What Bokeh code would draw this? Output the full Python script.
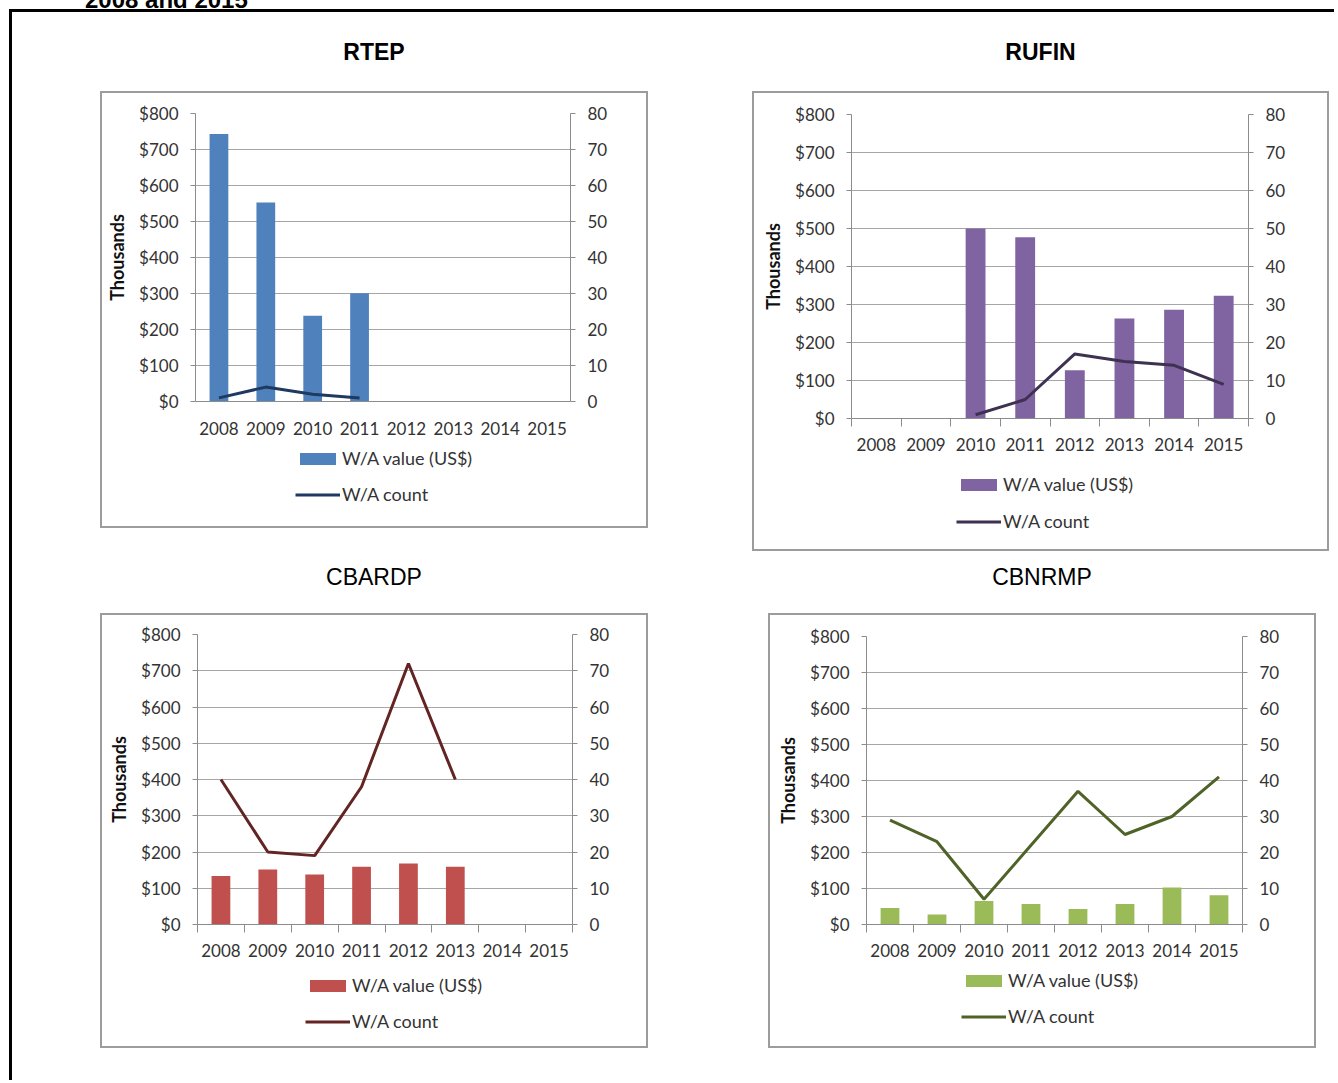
from bokeh.plotting import figure
from bokeh.models import (Range1d, LinearAxis, FixedTicker, NumeralTickFormatter,
                          Legend, LegendItem, Div, Spacer)
from bokeh.layouts import column, row
from bokeh.embed import file_html
from bokeh.resources import INLINE

# ---------------- data ----------------
years = [2008, 2009, 2010, 2011, 2012, 2013, 2014, 2015]
value_ticks = [0, 100, 200, 300, 400, 500, 600, 700, 800]   # thousands US$
count_ticks = [0, 10, 20, 30, 40, 50, 60, 70, 80]

rtep_years = [2008, 2009, 2010, 2011]
rtep_value = [743, 553, 238, 301]
rtep_count = [1, 4, 2, 1]

rufin_years = [2010, 2011, 2012, 2013, 2014, 2015]
rufin_value = [500, 477, 127, 263, 286, 323]
rufin_count = [1, 5, 17, 15, 14, 9]

cbardp_years = [2008, 2009, 2010, 2011, 2012, 2013]
cbardp_value = [134, 152, 138, 159, 168, 159]
cbardp_count = [40, 20, 19, 38, 72, 40]

cbnrmp_years = [2008, 2009, 2010, 2011, 2012, 2013, 2014, 2015]
cbnrmp_value = [46, 28, 65, 57, 43, 57, 103, 81]
cbnrmp_count = [29, 23, 7, 22, 37, 25, 30, 41]

caption = "2008 and 2015"
titles = ["RTEP", "RUFIN", "CBARDP", "CBNRMP"]
legend_labels = ["W/A value (US$)", "W/A count"]

FONT = "Lato"
GRID = "#a6a6a6"
AXIS = "#8c8c8c"
TXT = "#333333"
PANEL_EDGE = "#9c9c9c"


def make_panel(w, h, bl, br, bt, bb, leg_h, leg_loc, leg_spacing,
               yrs, vals, cnts, bar_color, line_color, boundary_ticks):
    p = figure(width=w, height=h, x_range=Range1d(2007.5, 2015.5), y_range=Range1d(0, 800),
               output_backend="svg", toolbar_location=None,
               min_border_left=bl, min_border_right=br, min_border_top=bt,
               min_border_bottom=bb, outline_line_color=None,
               background_fill_color="white", border_fill_color="white")
    p.extra_y_ranges = {"count": Range1d(0, 80)}

    p.vbar(x=yrs, top=vals, width=0.4, fill_color=bar_color, line_color=None)
    p.line(x=yrs, y=cnts, y_range_name="count", line_color=line_color, line_width=3)

    # x axis
    if boundary_ticks:
        minor = [y - 0.5 for y in years] + [years[-1] + 0.5]
    else:
        minor = []
    xa = p.xaxis[0]
    xa.ticker = FixedTicker(ticks=years, minor_ticks=minor)
    xa.major_tick_line_color = None
    xa.major_tick_out = 0
    xa.major_tick_in = 0
    xa.minor_tick_out = 8 if boundary_ticks else 0
    xa.minor_tick_in = 0
    xa.minor_tick_line_color = AXIS
    xa.axis_line_color = AXIS
    xa.major_label_standoff = 11 if boundary_ticks else 20
    xa.major_label_text_font = FONT
    xa.major_label_text_font_size = "17px"
    xa.major_label_text_color = TXT

    # left axis
    ya = p.yaxis[0]
    ya.ticker = FixedTicker(ticks=value_ticks)
    ya.formatter = NumeralTickFormatter(format="$0")
    ya.axis_line_color = AXIS
    ya.major_tick_line_color = AXIS
    ya.major_tick_out = 5
    ya.major_tick_in = 0
    ya.minor_tick_line_color = None
    ya.major_label_standoff = 12
    ya.major_label_text_font = FONT
    ya.major_label_text_font_size = "17px"
    ya.major_label_text_color = TXT
    ya.axis_label = "Thousands"
    ya.axis_label_text_font = FONT
    ya.axis_label_text_font_style = "bold"
    ya.axis_label_text_font_size = "18px"
    ya.axis_label_text_color = "#111111"
    ya.axis_label_standoff = 8

    # right axis
    ra = LinearAxis(y_range_name="count", ticker=FixedTicker(ticks=count_ticks))
    ra.axis_line_color = AXIS
    ra.major_tick_line_color = AXIS
    ra.major_tick_out = 5
    ra.major_tick_in = 0
    ra.minor_tick_line_color = None
    ra.major_label_standoff = 12
    ra.major_label_text_font = FONT
    ra.major_label_text_font_size = "17px"
    ra.major_label_text_color = TXT
    p.add_layout(ra, "right")

    p.xgrid.visible = False
    p.ygrid.grid_line_color = GRID
    p.ygrid.grid_line_width = 1

    # legend strip underneath the chart: same series, kept outside its view
    # (left of and below it), only used so the legend can show their swatches
    lg = figure(width=w, height=leg_h, x_range=Range1d(2030, 2040), y_range=Range1d(2000, 3000),
                output_backend="svg", toolbar_location=None,
                x_axis_location=None, y_axis_location=None,
                min_border_left=0, min_border_right=0, min_border_top=0,
                min_border_bottom=0, outline_line_color=None,
                background_fill_color="white", border_fill_color="white")
    lg.grid.visible = False
    lbar = lg.vbar(x=yrs, top=vals, width=0.4, fill_color=bar_color, line_color=None)
    lline = lg.line(x=yrs, y=cnts, line_color=line_color, line_width=3)
    legend = Legend(items=[LegendItem(label=legend_labels[0], renderers=[lbar]),
                           LegendItem(label=legend_labels[1], renderers=[lline])],
                    location=leg_loc, orientation="vertical",
                    glyph_width=45, glyph_height=15, label_standoff=2,
                    label_height=22, spacing=leg_spacing, padding=0, margin=0,
                    border_line_color=None, background_fill_alpha=0,
                    label_text_font=FONT, label_text_font_size="18px",
                    label_text_color=TXT)
    lg.add_layout(legend, "center")
    inner = column(p, lg, margin=(2, 2, 2, 2), styles={"background-color": "white"})
    # grey frame around the whole chart panel
    return column(inner, styles={"background-color": PANEL_EDGE})


def title_div(text, w, bold):
    return Div(text=text, width=w, height=30, margin=(0, 0, 0, 0),
               styles={"text-align": "center", "font-family": "'Liberation Sans', Arial, sans-serif",
                       "font-size": "23px", "font-weight": "bold" if bold else "normal",
                       "line-height": "30px", "color": "#000000"})


p1 = make_panel(544, 350, 93, 76, 20, 42, 83, (100, 21), 14,
                rtep_years, rtep_value, rtep_count, "#4F81BD", "#1F3A60", False)
p2 = make_panel(573, 367, 97, 79, 21, 42, 89, (105, 17), 15,
                rufin_years, rufin_value, rufin_count, "#8064A2", "#3F3151", True)
p3 = make_panel(544, 351, 95, 74, 19, 42, 80, (108, 14), 14,
                cbardp_years, cbardp_value, cbardp_count, "#C0504D", "#632523", True)
p4 = make_panel(544, 351, 96, 72, 21, 42, 80, (95, 19), 14,
                cbnrmp_years, cbnrmp_value, cbnrmp_count, "#9BBB59", "#4F6228", True)

col1 = column(title_div(titles[0], 548, True), Spacer(height=24), p1)
col2 = column(title_div(titles[1], 577, True), Spacer(height=24), p2)
col3 = column(title_div(titles[2], 548, False), Spacer(height=21), p3)
col4 = column(title_div(titles[3], 548, False), Spacer(height=21), p4)

frame = column(
    Spacer(height=25),
    row(Spacer(width=88), col1, Spacer(width=104), col2, Spacer(width=5)),
    Spacer(height=11),
    row(Spacer(width=88), col3, Spacer(width=120), col4),
    Spacer(height=32),
    styles={"margin-left": "9px",
            "border-left": "3px solid #000000", "border-top": "3px solid #000000"},
)

cap = Div(text=caption, width=260, height=9, margin=(0, 0, 0, 85),
          styles={"font-family": "'Liberation Sans', Arial, sans-serif", "font-size": "24px",
                  "font-weight": "bold", "line-height": "0px", "color": "#000000"})

layout = column(cap, frame)

open("out.html", "w").write(file_html(layout, INLINE))
